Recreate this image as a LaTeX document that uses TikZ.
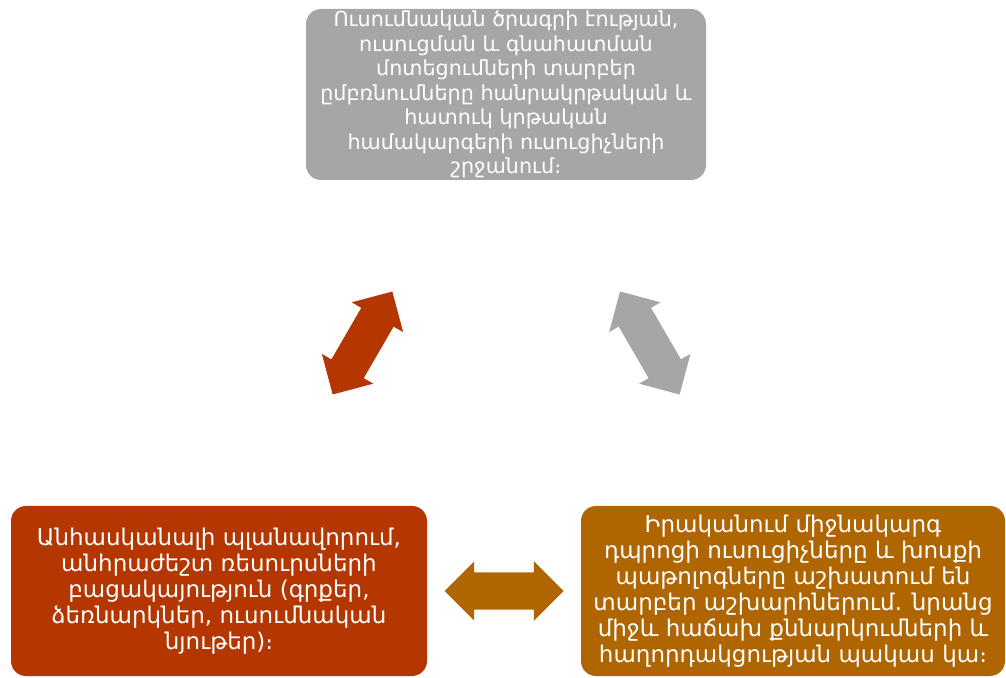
\documentclass[tikz,border=0pt]{standalone}
\usepackage{fontspec}
\setmainfont{DejaVu Sans}
\usetikzlibrary{shapes.arrows}

\definecolor{boxgray}{RGB}{166,166,166}
\definecolor{boxrust}{RGB}{180,54,0}
\definecolor{boxochre}{RGB}{175,101,0}

\tikzset{
  card/.style={rounded corners=15pt, text=white, align=center, inner sep=0pt,
    minimum height=170pt, font=\fontsize{23}{26}\selectfont},
  twoway/.style={double arrow, double arrow head extend=11pt, minimum height=119pt,
    inner xsep=0pt, inner ysep=18.5pt, sloped, midway}
}

\begin{document}
\begin{tikzpicture}[x=1pt,y=1pt]
\useasboundingbox (0,0) rectangle (1006,677);

% Kaesten
\node[card, fill=boxgray, minimum width=400pt, minimum height=171pt,
  font=\fontsize{20.7}{24.5}\selectfont] (issue) at (506,582.5)
  {Ուսումնական ծրագրի էության,\\ուսուցման և գնահատման\\մոտեցումների տարբեր\\ըմբռնումները հանրակրթական և\\հատուկ կրթական\\համակարգերի ուսուցիչների\\շրջանում։};
\node[card, fill=boxrust, minimum width=416pt] (plan) at (219,86)
  {Անհասկանալի պլանավորում,\\անհրաժեշտ ռեսուրսների\\բացակայություն (գրքեր,\\ձեռնարկներ, ուսումնական\\նյութեր)։};
\node[card, fill=boxochre, minimum width=424pt] (team) at (793,86)
  {Իրականում միջնակարգ\\դպրոցի ուսուցիչները և խոսքի\\պաթոլոգները աշխատում են\\տարբեր աշխարհներում. նրանց\\միջև հաճախ քննարկումների և\\հաղորդակցության պակաս կա։};

% Doppelpfeile
\path (plan) -- (issue) node[twoway, fill=boxrust] (arrL) {};
\path (issue) -- (team) node[twoway, fill=boxgray] (arrR) {};
\path (plan) -- (team) node[twoway, fill=boxochre] (arrB) {};

\end{tikzpicture}
\end{document}
